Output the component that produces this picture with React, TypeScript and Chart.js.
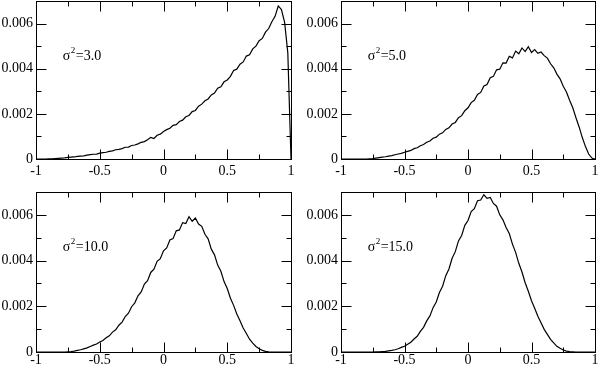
import React, { useEffect, useRef } from 'react';
import { Chart, registerables } from 'chart.js';
Chart.register(...registerables);

// x grid shared by all four panels
const X = [
  -1, -0.975, -0.95, -0.925, -0.9, -0.875, -0.85, -0.825, -0.8, -0.775,
  -0.75, -0.725, -0.7, -0.675, -0.65, -0.625, -0.6, -0.575, -0.55, -0.525,
  -0.5, -0.475, -0.45, -0.425, -0.4, -0.375, -0.35, -0.325, -0.3, -0.275,
  -0.25, -0.225, -0.2, -0.175, -0.15, -0.125, -0.1, -0.075, -0.05, -0.025,
  0, 0.025, 0.05, 0.075, 0.1, 0.125, 0.15, 0.175, 0.2, 0.225,
  0.25, 0.275, 0.3, 0.325, 0.35, 0.375, 0.4, 0.425, 0.45, 0.475,
  0.5, 0.525, 0.55, 0.575, 0.6, 0.625, 0.65, 0.675, 0.7, 0.725,
  0.75, 0.775, 0.8, 0.825, 0.85, 0.875, 0.9, 0.925, 0.95, 0.975,
  1,
];

// values in units of 1e-3
const SIGMA3 = [
  0, 0, 0, 0, 0.01, 0.01, 0.02, 0.03, 0.04, 0.05,
  0.07, 0.08, 0.09, 0.12, 0.13, 0.14, 0.17, 0.19, 0.21, 0.22,
  0.26, 0.28, 0.3, 0.34, 0.36, 0.41, 0.43, 0.46, 0.52, 0.53,
  0.6, 0.62, 0.67, 0.74, 0.77, 0.85, 0.96, 0.91, 1.05, 1.1,
  1.22, 1.3, 1.36, 1.49, 1.52, 1.66, 1.72, 1.87, 1.93, 2.1,
  2.15, 2.34, 2.43, 2.58, 2.66, 2.84, 2.92, 3.14, 3.2, 3.42,
  3.5, 3.66, 3.92, 3.98, 4.2, 4.3, 4.56, 4.62, 4.88, 5.0,
  5.24, 5.34, 5.62, 5.78, 6.08, 6.32, 6.78, 6.62, 6.05, 4.7,
  0,
];
const SIGMA5 = [
  0, 0, 0, 0, 0, 0, 0, 0, 0, 0.01,
  0.02, 0.04, 0.06, 0.08, 0.1, 0.13, 0.15, 0.19, 0.22, 0.25,
  0.3, 0.34, 0.38, 0.46, 0.5, 0.59, 0.64, 0.74, 0.8, 0.92,
  0.97, 1.1, 1.16, 1.31, 1.38, 1.55, 1.62, 1.83, 1.92, 2.14,
  2.27, 2.5, 2.6, 2.86, 2.95, 3.24, 3.3, 3.6, 3.66, 3.95,
  3.98, 4.26, 4.25, 4.55, 4.48, 4.78, 4.66, 4.92, 4.76, 4.98,
  4.72, 4.85, 4.68, 4.74, 4.58, 4.47, 4.22, 4.04, 3.76, 3.55,
  3.22, 2.97, 2.6, 2.27, 1.83, 1.42, 0.95, 0.55, 0.22, 0.04,
  0,
];
const SIGMA10 = [
  0, 0, 0, 0, 0, 0, 0, 0, 0, 0,
  0.01, 0.02, 0.04, 0.07, 0.1, 0.14, 0.18, 0.24, 0.3, 0.35,
  0.44, 0.5, 0.62, 0.71, 0.87, 0.97, 1.17, 1.31, 1.55, 1.7,
  1.98, 2.15, 2.46, 2.63, 2.97, 3.12, 3.48, 3.62, 3.97, 4.08,
  4.43, 4.55, 4.9, 4.96, 5.3, 5.34, 5.66, 5.62, 5.92, 5.72,
  5.86, 5.6, 5.5, 5.15, 4.95, 4.5, 4.25, 3.8, 3.53, 3.08,
  2.78, 2.35, 2.04, 1.66, 1.37, 1.05, 0.81, 0.56, 0.39, 0.24,
  0.14, 0.07, 0.03, 0.01, 0, 0, 0, 0, 0, 0,
  0,
];
const SIGMA15 = [
  0, 0, 0, 0, 0, 0, 0, 0, 0, 0,
  0, 0.01, 0.01, 0.02, 0.03, 0.05, 0.07, 0.1, 0.14, 0.2,
  0.25, 0.34, 0.43, 0.57, 0.69, 0.9, 1.08, 1.36, 1.58, 1.94,
  2.19, 2.6, 2.88, 3.34, 3.63, 4.1, 4.39, 4.86, 5.1, 5.54,
  5.75, 6.14, 6.27, 6.62, 6.65, 6.88, 6.72, 6.76, 6.5, 6.38,
  6.0, 5.78, 5.45, 5.18, 4.72, 4.36, 3.88, 3.5, 3.03, 2.66,
  2.24, 1.91, 1.56, 1.28, 0.99, 0.77, 0.55, 0.4, 0.25, 0.16,
  0.09, 0.04, 0.02, 0.01, 0, 0, 0, 0, 0, 0,
  0,
];

const SERIES = [SIGMA3, SIGMA5, SIGMA10, SIGMA15];
const SIGMA_LABELS = ['3.0', '5.0', '10.0', '15.0'];

const X_TICKS = [-1, -0.5, 0, 0.5, 1];
const X_LABELS = ['-1', '-0.5', '0', '0.5', '1'];
const X_MINOR = [-0.75, -0.25, 0.25, 0.75];
const Y_TICKS = [0, 0.002, 0.004, 0.006];
const Y_LABELS = ['0', '0.002', '0.004', '0.006'];
const Y_MINOR = [0.001, 0.003, 0.005];

const FONT = '"Liberation Serif", "Times New Roman", serif';

type PanelGeom = {
  left: number; top: number; w: number; h: number;
  yWidth: number; padTop: number; padRight: number; xHeight: number; xPad: number;
};

const GEOMS: PanelGeom[] = [
  { left: 0, top: 0, w: 300, h: 185, yWidth: 36, padTop: 1, padRight: 9, xHeight: 26, xPad: 4 },
  { left: 300, top: 0, w: 299, h: 185, yWidth: 41, padTop: 1, padRight: 4, xHeight: 26, xPad: 4 },
  { left: 0, top: 185, w: 300, h: 182, yWidth: 36, padTop: 7, padRight: 9, xHeight: 15, xPad: 0 },
  { left: 300, top: 185, w: 299, h: 182, yWidth: 41, padTop: 7, padRight: 4, xHeight: 15, xPad: 0 },
];

function makeFrame(label: string) {
  return {
    id: 'frame',
    afterDraw(chart: any) {
      const { ctx, chartArea, scales } = chart;
      const xs = scales.x;
      const ys = scales.y;
      const L = Math.floor(chartArea.left) + 0.5;
      const R = Math.floor(chartArea.right) + 0.5;
      const T = Math.floor(chartArea.top) + 0.5;
      const B = Math.floor(chartArea.bottom) + 0.5;
      ctx.save();
      ctx.strokeStyle = '#000';
      ctx.lineWidth = 1;
      ctx.strokeRect(L, T, R - L, B - T);
      const line = (x1: number, y1: number, x2: number, y2: number) => {
        ctx.beginPath();
        ctx.moveTo(x1, y1);
        ctx.lineTo(x2, y2);
        ctx.stroke();
      };
      const xt = (v: number, len: number) => {
        const p = Math.round(xs.getPixelForValue(v)) + 0.5;
        line(p, B, p, B - len);
        line(p, T, p, T + len);
      };
      const yt = (v: number, len: number) => {
        const p = Math.round(ys.getPixelForValue(v)) + 0.5;
        line(L, p, L + len, p);
        line(R, p, R - len, p);
      };
      X_TICKS.forEach((v) => xt(v, 10));
      X_MINOR.forEach((v) => xt(v, 5));
      Y_TICKS.forEach((v) => yt(v, 10));
      Y_MINOR.forEach((v) => yt(v, 5));

      // sigma^2 annotation
      const px = xs.getPixelForValue(-0.79);
      const py = ys.getPixelForValue(0.0044);
      ctx.fillStyle = '#000';
      ctx.textAlign = 'left';
      ctx.textBaseline = 'alphabetic';
      ctx.font = `14px ${FONT}`;
      ctx.fillText('σ', px, py);
      const w1 = ctx.measureText('σ').width;
      ctx.font = `9px ${FONT}`;
      ctx.fillText('2', px + w1 + 0.5, py - 7);
      const w2 = ctx.measureText('2').width;
      ctx.font = `14px ${FONT}`;
      ctx.fillText('=' + label, px + w1 + w2 + 1, py);
      ctx.restore();
    },
  };
}

function Panel({ idx }: { idx: number }) {
  const ref = useRef<HTMLCanvasElement | null>(null);
  const g = GEOMS[idx];
  useEffect(() => {
    if (!ref.current) return;
    const ysData = SERIES[idx];
    const chart = new Chart(ref.current, {
      type: 'line',
      data: {
        datasets: [
          {
            data: X.map((xv, i) => ({ x: xv, y: ysData[i] / 1000 })),
            borderColor: '#000',
            borderWidth: 1.2,
            pointRadius: 0,
            tension: 0,
            fill: false,
          },
        ],
      },
      options: {
        animation: false,
        responsive: false,
        events: [],
        layout: { padding: { left: 0, right: g.padRight, top: g.padTop, bottom: 0 } },
        plugins: { legend: { display: false }, tooltip: { enabled: false } },
        scales: {
          x: {
            type: 'linear',
            min: -1,
            max: 1,
            grid: { display: false, drawTicks: false },
            border: { display: false },
            afterBuildTicks: (s: any) => {
              s.ticks = X_TICKS.map((v) => ({ value: v }));
            },
            afterFit: (s: any) => {
              s.height = g.xHeight;
              s.paddingLeft = 0;
              s.paddingRight = 0;
            },
            ticks: {
              autoSkip: false,
              maxRotation: 0,
              padding: g.xPad,
              color: '#000',
              font: { family: FONT, size: 14 },
              callback: (v: any) => X_LABELS[X_TICKS.indexOf(Number(v))],
            },
          },
          y: {
            type: 'linear',
            min: 0,
            max: 0.007,
            grid: { display: false, drawTicks: false },
            border: { display: false },
            afterBuildTicks: (s: any) => {
              s.ticks = Y_TICKS.map((v) => ({ value: v }));
            },
            afterFit: (s: any) => {
              s.width = g.yWidth;
              s.paddingTop = 0;
              s.paddingBottom = 0;
            },
            ticks: {
              autoSkip: false,
              padding: 3,
              color: '#000',
              font: { family: FONT, size: 14 },
              callback: (v: any) => Y_LABELS[Y_TICKS.indexOf(Number(v))],
            },
          },
        },
      } as any,
      plugins: [makeFrame(SIGMA_LABELS[idx])],
    });
    return () => chart.destroy();
  }, [idx]);
  return (
    <div style={{ position: 'absolute', left: g.left, top: g.top, width: g.w, height: g.h }}>
      <canvas ref={ref} width={g.w} height={g.h} style={{ display: 'block', width: g.w, height: g.h }} />
    </div>
  );
}

export default function App() {
  return (
    <div style={{ position: 'absolute', left: 0, top: 0, width: 599, height: 367, background: '#fff', overflow: 'hidden' }}>
      {[0, 1, 2, 3].map((i) => (
        <Panel key={i} idx={i} />
      ))}
    </div>
  );
}
